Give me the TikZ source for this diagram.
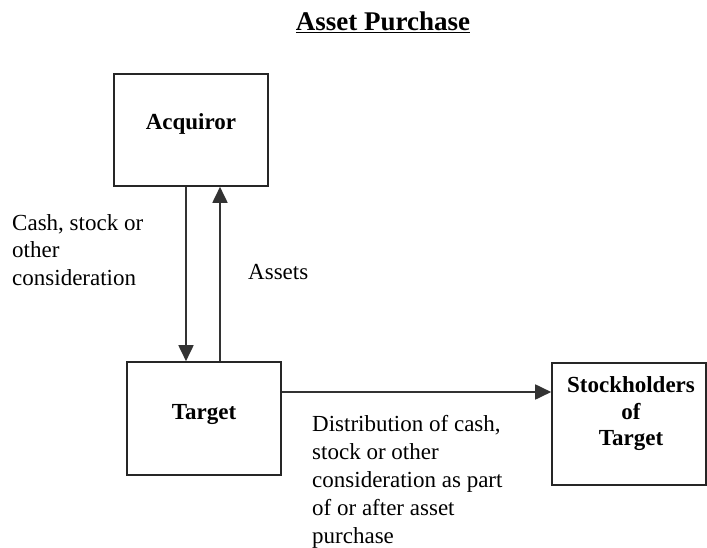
\documentclass[tikz,border=0pt]{standalone}
\usepackage{fontspec}
\setmainfont{Liberation Serif}
\usetikzlibrary{arrows.meta}
\begin{document}
\begin{tikzpicture}[x=1pt,y=-1pt,>={Triangle[length=16pt,width=15pt]},
    box/.style={draw=black!85,line width=1.6pt,minimum width=154pt,inner sep=0pt,font=\fontsize{23}{27}\selectfont\bfseries},
    txt/.style={align=left,inner sep=0pt,anchor=west,font=\fontsize{23}{27.5}\selectfont},
    flow/.style={->,draw=black!80,line width=1.8pt}]
    \useasboundingbox (0,0) rectangle (707,548);
    \node[font=\fontsize{27}{32}\selectfont\bfseries] (title) at (383,22) {\underline{Asset Purchase}};
    \node[box,minimum height=112pt] (acq) at (191,130) {\raisebox{6pt}[\height][\depth]{Acquiror}};
    \node[box,minimum height=113pt] (tgt) at (204,418.5) {\raisebox{4pt}[\height][\depth]{Target}};
    \node[box,minimum height=122pt] (stk) at (629,424) {};
    \node[align=center,inner sep=0pt,font=\fontsize{23}{26.5}\selectfont\bfseries] (stklbl) at (631,414) {Stockholders\\of\\Target};
    % connectors
    \coordinate (dn) at (186,0);
    \coordinate (up) at (220,0);
    \coordinate (dist) at (0,392);
    \draw[flow] (acq.south -| dn) -- (tgt.north -| dn);
    \draw[flow] (tgt.north -| up) -- (acq.south -| up);
    \draw[flow] (tgt.east |- dist) -- (stk.west |- dist);
    % labels
    \node[txt] (cash) at (12,250) {Cash, stock or\\other\\consideration};
    \node[txt] (assets) at (248,272) {Assets};
    \node[txt,font=\fontsize{23}{28}\selectfont] (distlbl) at (312,482) {Distribution of cash,\\stock or other\\consideration as part\\of or after asset\\purchase};
\end{tikzpicture}
\end{document}
